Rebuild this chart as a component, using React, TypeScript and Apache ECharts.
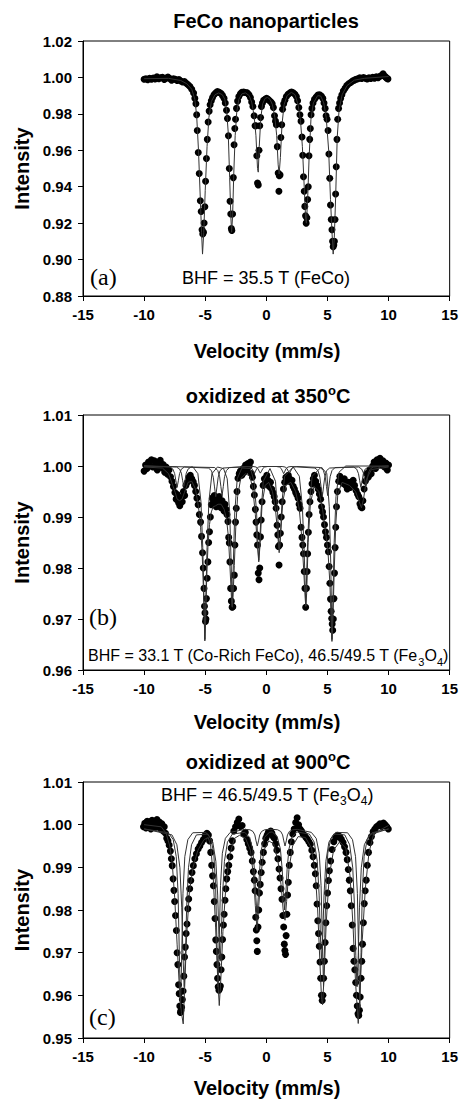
import React, { useEffect, useRef } from "react";
import * as echarts from "echarts";

type P = [number, number];

// ---------- Panel (a): FeCo nanoparticles ----------
const DOTS_A: P[] = [
  [-10.0, 0.999], [-9.85, 0.9993], [-9.7, 0.9988], [-9.55, 0.9995], [-9.4, 0.999], [-9.25, 0.9997], [-9.1, 0.9992],
  [-8.95, 1.0003], [-8.8, 0.9993], [-8.65, 0.9998], [-8.5, 1.0001], [-8.35, 0.9989], [-8.2, 0.9996], [-8.05, 1.0002],
  [-7.9, 0.9994], [-7.75, 0.9985], [-7.6, 0.9993], [-7.45, 0.999], [-7.3, 0.9983], [-7.15, 0.9988], [-7.0, 0.998],
  [-6.85, 0.9975], [-6.7, 0.9978], [-6.55, 0.9968], [-6.4, 0.996], [-6.25, 0.995], [-6.1, 0.9935], [-5.95, 0.9915],
  [-5.85, 0.9885], [-5.76, 0.9855], [-5.7, 0.9795], [-5.65, 0.9709], [-5.57, 0.9588], [-5.49, 0.9473], [-5.4, 0.9323],
  [-5.33, 0.9264], [-5.26, 0.9164], [-5.2, 0.9141], [-5.14, 0.915], [-5.09, 0.9201], [-5.03, 0.929], [-4.97, 0.943],
  [-4.9, 0.9555], [-4.83, 0.966], [-4.76, 0.9755], [-4.68, 0.9815], [-4.6, 0.985], [-4.5, 0.9872], [-4.4, 0.989],
  [-4.28, 0.9905], [-4.15, 0.9915], [-4.0, 0.9922], [-3.85, 0.9918], [-3.7, 0.9912], [-3.58, 0.99], [-3.46, 0.9885],
  [-3.36, 0.986], [-3.26, 0.982], [-3.18, 0.9775], [-3.1, 0.968], [-3.03, 0.95], [-2.97, 0.932], [-2.91, 0.925],
  [-2.86, 0.917], [-2.82, 0.916], [-2.76, 0.925], [-2.7, 0.945], [-2.64, 0.963], [-2.58, 0.972], [-2.52, 0.977],
  [-2.44, 0.983], [-2.35, 0.987], [-2.25, 0.9895], [-2.12, 0.991], [-2.0, 0.9918], [-1.85, 0.992], [-1.7, 0.9917],
  [-1.55, 0.9915], [-1.42, 0.9905], [-1.3, 0.989], [-1.2, 0.9865], [-1.1, 0.984], [-1.0, 0.979], [-0.92, 0.9735],
  [-0.85, 0.9735], [-0.78, 0.957], [-0.72, 0.942], [-0.66, 0.941], [-0.6, 0.96], [-0.54, 0.9735], [-0.47, 0.978],
  [-0.4, 0.984], [-0.32, 0.986], [-0.22, 0.9875], [-0.1, 0.988], [0.02, 0.9885], [0.14, 0.988], [0.26, 0.9872],
  [0.38, 0.9865], [0.48, 0.9855], [0.58, 0.9835], [0.67, 0.979], [0.75, 0.976], [0.82, 0.974], [0.9, 0.962],
  [0.97, 0.9475], [1.03, 0.9375], [1.06, 0.946], [1.12, 0.9465], [1.19, 0.967], [1.26, 0.974], [1.33, 0.9825],
  [1.42, 0.9855], [1.52, 0.9875], [1.64, 0.9895], [1.78, 0.9908], [1.92, 0.9915], [2.06, 0.992], [2.2, 0.9916],
  [2.34, 0.9908], [2.46, 0.9895], [2.56, 0.9872], [2.66, 0.9835], [2.75, 0.9795], [2.84, 0.976], [2.92, 0.9673],
  [2.98, 0.9573], [3.04, 0.9455], [3.1, 0.9375], [3.15, 0.9292], [3.21, 0.924], [3.26, 0.92], [3.32, 0.923],
  [3.38, 0.933], [3.43, 0.94], [3.49, 0.957], [3.55, 0.966], [3.6, 0.972], [3.66, 0.9795], [3.73, 0.983],
  [3.82, 0.986], [3.94, 0.988], [4.08, 0.9893], [4.22, 0.9903], [4.36, 0.9905], [4.5, 0.9898], [4.62, 0.9885],
  [4.72, 0.986], [4.81, 0.983], [4.89, 0.979], [4.97, 0.977], [5.05, 0.9709], [5.12, 0.958], [5.19, 0.9446],
  [5.25, 0.93], [5.31, 0.922], [5.37, 0.9164], [5.42, 0.91], [5.47, 0.907], [5.52, 0.908], [5.57, 0.91],
  [5.62, 0.922], [5.67, 0.936], [5.72, 0.951], [5.78, 0.966], [5.84, 0.977], [5.91, 0.983], [5.99, 0.986],
  [6.08, 0.9885], [6.18, 0.9905], [6.3, 0.9925], [6.44, 0.994], [6.58, 0.9955], [6.74, 0.9965], [6.9, 0.9972],
  [7.05, 0.998], [7.2, 0.9985], [7.35, 0.999], [7.5, 0.9993], [7.65, 0.9998], [7.8, 0.9994], [7.95, 1.0],
  [8.1, 0.9995], [8.25, 0.9992], [8.4, 0.9998], [8.55, 0.9994], [8.7, 1.0001], [8.85, 0.9996], [9.0, 1.0003],
  [9.15, 0.9999], [9.3, 1.0006], [9.45, 1.0012], [9.55, 1.002], [9.65, 1.0008], [9.75, 1.0003], [9.85, 0.9995],
  [9.95, 0.9992],
];
const FIT_A: P[] = [
  [-10, 0.9993], [-8, 0.9995], [-7, 0.9983], [-6.5, 0.9965], [-6.1, 0.9935], [-5.85, 0.988], [-5.7, 0.979],
  [-5.55, 0.96], [-5.4, 0.933], [-5.3, 0.915], [-5.22, 0.903], [-5.12, 0.915], [-5.0, 0.938], [-4.85, 0.962],
  [-4.7, 0.978], [-4.5, 0.9868], [-4.2, 0.9905], [-3.9, 0.9915], [-3.6, 0.9905], [-3.4, 0.988], [-3.25, 0.982],
  [-3.12, 0.97], [-3.0, 0.945], [-2.9, 0.923], [-2.84, 0.915], [-2.76, 0.924], [-2.66, 0.948], [-2.55, 0.968],
  [-2.42, 0.981], [-2.25, 0.988], [-2.0, 0.991], [-1.7, 0.9915], [-1.4, 0.99], [-1.2, 0.9865], [-1.0, 0.979],
  [-0.85, 0.968], [-0.72, 0.95], [-0.66, 0.948], [-0.58, 0.962], [-0.45, 0.978], [-0.3, 0.9855], [-0.1, 0.9885],
  [0.1, 0.989], [0.3, 0.988], [0.5, 0.985], [0.7, 0.978], [0.85, 0.968], [0.97, 0.952], [1.05, 0.947],
  [1.15, 0.956], [1.28, 0.974], [1.45, 0.985], [1.7, 0.99], [2.05, 0.9918], [2.35, 0.9905], [2.6, 0.985],
  [2.8, 0.976], [2.95, 0.962], [3.1, 0.94], [3.22, 0.922], [3.28, 0.92], [3.38, 0.933], [3.5, 0.956],
  [3.65, 0.977], [3.85, 0.986], [4.2, 0.99], [4.45, 0.9898], [4.7, 0.986], [4.9, 0.978], [5.1, 0.96],
  [5.25, 0.933], [5.38, 0.914], [5.47, 0.903], [5.56, 0.912], [5.68, 0.936], [5.8, 0.967], [5.95, 0.982],
  [6.2, 0.9905], [6.6, 0.9955], [7.2, 0.9985], [8, 0.9995], [10, 1.0005],
];

// ---------- Panel (b): oxidized at 350 C ----------
const DOTS_B: P[] = [
  [-10.0, 0.999], [-9.88, 1.0002], [-9.76, 0.9995], [-9.64, 1.0008], [-9.52, 1.0], [-9.4, 1.0012], [-9.28, 0.9998],
  [-9.16, 1.001], [-9.04, 1.0004], [-8.92, 0.9992], [-8.8, 1.0006], [-8.68, 1.0011], [-8.56, 0.9997], [-8.44, 1.0003],
  [-8.32, 0.9988], [-8.2, 0.9998], [-8.08, 0.9984], [-7.96, 0.9992], [-7.84, 0.9979], [-7.72, 0.997], [-7.6, 0.996],
  [-7.48, 0.9948], [-7.38, 0.9935], [-7.28, 0.9944], [-7.18, 0.9928], [-7.08, 0.9922], [-6.98, 0.9938], [-6.88, 0.993],
  [-6.78, 0.995], [-6.68, 0.9942], [-6.58, 0.9962], [-6.46, 0.9968], [-6.34, 0.9978], [-6.22, 0.9982], [-6.1, 0.9975],
  [-5.98, 0.9969], [-5.88, 0.9962], [-5.78, 0.995], [-5.68, 0.9937], [-5.58, 0.9924], [-5.48, 0.9905], [-5.38, 0.989],
  [-5.3, 0.9862], [-5.22, 0.983], [-5.16, 0.98], [-5.1, 0.976], [-5.06, 0.9725], [-5.02, 0.9712], [-4.98, 0.9695],
  [-4.94, 0.97], [-4.9, 0.974], [-4.84, 0.978], [-4.78, 0.9812], [-4.72, 0.985], [-4.65, 0.9871], [-4.58, 0.99],
  [-4.5, 0.9924], [-4.42, 0.9937], [-4.34, 0.9928], [-4.26, 0.9942], [-4.18, 0.993], [-4.1, 0.992], [-4.02, 0.9935],
  [-3.94, 0.9926], [-3.86, 0.994], [-3.78, 0.993], [-3.7, 0.9918], [-3.62, 0.9932], [-3.54, 0.9922], [-3.46, 0.9912],
  [-3.38, 0.9925], [-3.3, 0.9915], [-3.22, 0.9905], [-3.14, 0.9891], [-3.08, 0.986], [-3.03, 0.9849], [-2.98, 0.9812],
  [-2.92, 0.976], [-2.86, 0.9735], [-2.8, 0.9723], [-2.74, 0.9724], [-2.68, 0.976], [-2.62, 0.9786], [-2.57, 0.9845],
  [-2.52, 0.989], [-2.46, 0.9917], [-2.4, 0.995], [-2.32, 0.9976], [-2.22, 0.9985], [-2.12, 0.999], [-2.0, 0.9982],
  [-1.9, 0.9995], [-1.8, 0.9988], [-1.7, 1.0002], [-1.6, 0.9992], [-1.5, 1.0005], [-1.4, 1.0], [-1.3, 1.0008],
  [-1.22, 0.9985], [-1.14, 0.9978], [-1.06, 0.996], [-0.98, 0.9943], [-0.9, 0.9915], [-0.84, 0.989], [-0.78, 0.9865],
  [-0.72, 0.9845], [-0.66, 0.979], [-0.6, 0.9777], [-0.54, 0.98], [-0.48, 0.9861], [-0.42, 0.9894], [-0.35, 0.993],
  [-0.26, 0.9962], [-0.16, 0.9975], [-0.06, 0.9968], [0.04, 0.9982], [0.14, 0.9972], [0.24, 0.996], [0.34, 0.9968],
  [0.44, 0.9955], [0.54, 0.9948], [0.64, 0.994], [0.72, 0.993], [0.8, 0.9917], [0.88, 0.9884], [0.94, 0.9865],
  [0.99, 0.9842], [1.04, 0.9806], [1.09, 0.9845], [1.15, 0.9868], [1.22, 0.99], [1.3, 0.993], [1.4, 0.9955],
  [1.5, 0.9968], [1.6, 0.9978], [1.7, 0.9972], [1.8, 0.9982], [1.9, 0.9975], [2.0, 0.9968], [2.1, 0.9972],
  [2.2, 0.996], [2.3, 0.9955], [2.4, 0.9948], [2.5, 0.9943], [2.6, 0.9937], [2.68, 0.9925], [2.76, 0.9917],
  [2.84, 0.988], [2.92, 0.986], [2.98, 0.9845], [3.04, 0.9828], [3.1, 0.9793], [3.16, 0.976], [3.22, 0.9723],
  [3.28, 0.976], [3.34, 0.9793], [3.38, 0.9828], [3.44, 0.987], [3.5, 0.9905], [3.57, 0.993], [3.65, 0.995],
  [3.74, 0.9965], [3.84, 0.9975], [3.94, 0.9982], [4.04, 0.997], [4.14, 0.9962], [4.24, 0.9955], [4.34, 0.9945],
  [4.44, 0.9935], [4.52, 0.992], [4.6, 0.991], [4.68, 0.99], [4.76, 0.9885], [4.84, 0.9871], [4.92, 0.986],
  [5.0, 0.9845], [5.08, 0.9832], [5.14, 0.9803], [5.2, 0.977], [5.25, 0.9739], [5.3, 0.9715], [5.35, 0.9701],
  [5.39, 0.969], [5.43, 0.9678], [5.48, 0.97], [5.53, 0.974], [5.58, 0.979], [5.63, 0.984], [5.68, 0.988],
  [5.74, 0.992], [5.82, 0.995], [5.92, 0.997], [6.02, 0.998], [6.14, 0.9972], [6.26, 0.9966], [6.38, 0.9975],
  [6.5, 0.9962], [6.62, 0.9955], [6.74, 0.9968], [6.86, 0.9958], [6.98, 0.9965], [7.1, 0.9972], [7.22, 0.9962],
  [7.34, 0.9952], [7.46, 0.9945], [7.56, 0.994], [7.66, 0.9926], [7.74, 0.992], [7.82, 0.9918], [7.9, 0.9932],
  [8.0, 0.9955], [8.1, 0.997], [8.22, 0.9985], [8.34, 0.9978], [8.46, 0.9992], [8.58, 0.9985], [8.7, 1.0],
  [8.82, 1.0008], [8.94, 0.9995], [9.06, 1.0012], [9.18, 1.0004], [9.3, 1.0015], [9.42, 1.0002], [9.54, 1.001],
  [9.66, 0.9998], [9.78, 1.0006], [9.9, 0.9992], [10.0, 1.0002],
];
const FIT_B: P[] = [
  [-10, 0.9998], [-8.5, 0.9996], [-8.0, 0.9985], [-7.7, 0.9965], [-7.45, 0.9948], [-7.3, 0.9935], [-7.1, 0.9932],
  [-6.9, 0.9935], [-6.7, 0.9948], [-6.4, 0.9968], [-6.1, 0.997], [-5.8, 0.9955], [-5.55, 0.992], [-5.38, 0.988],
  [-5.25, 0.983], [-5.15, 0.976], [-5.08, 0.97], [-5.03, 0.9657], [-4.96, 0.97], [-4.88, 0.978], [-4.78, 0.984],
  [-4.65, 0.9885], [-4.5, 0.991], [-4.35, 0.992], [-4.15, 0.9922], [-3.95, 0.9925], [-3.7, 0.9925], [-3.45, 0.9915],
  [-3.25, 0.9895], [-3.1, 0.986], [-2.97, 0.98], [-2.86, 0.9745], [-2.79, 0.9723], [-2.72, 0.9745], [-2.62, 0.9805],
  [-2.5, 0.988], [-2.35, 0.994], [-2.1, 0.9975], [-1.7, 0.9985], [-1.35, 0.998], [-1.1, 0.9955], [-0.9, 0.9905],
  [-0.75, 0.985], [-0.62, 0.9812], [-0.5, 0.985], [-0.35, 0.9925], [-0.1, 0.9962], [0.2, 0.9968], [0.5, 0.995],
  [0.75, 0.9915], [0.92, 0.987], [1.05, 0.983], [1.18, 0.987], [1.35, 0.993], [1.6, 0.9962], [2.0, 0.9968],
  [2.4, 0.995], [2.7, 0.9915], [2.9, 0.986], [3.05, 0.98], [3.18, 0.974], [3.23, 0.9725], [3.3, 0.975],
  [3.42, 0.985], [3.6, 0.9925], [3.9, 0.996], [4.3, 0.995], [4.6, 0.9915], [4.85, 0.987], [5.05, 0.983],
  [5.2, 0.977], [5.3, 0.97], [5.37, 0.9656], [5.45, 0.97], [5.55, 0.979], [5.68, 0.9885], [5.85, 0.9945],
  [6.2, 0.9968], [6.8, 0.9962], [7.3, 0.995], [7.6, 0.993], [7.78, 0.9918], [7.95, 0.9935], [8.2, 0.9975],
  [8.6, 0.9993], [10, 0.9998],
];
const FECO_B: P[] = [
  [-10, 1.0], [-6.0, 0.9998], [-5.6, 0.9985], [-5.35, 0.993], [-5.2, 0.984], [-5.1, 0.974], [-5.03, 0.966],
  [-4.95, 0.974], [-4.85, 0.984], [-4.7, 0.993], [-4.45, 0.9985], [-4.0, 0.9998], [-3.5, 0.9995], [-3.2, 0.9975],
  [-3.0, 0.991], [-2.88, 0.981], [-2.79, 0.9725], [-2.7, 0.981], [-2.58, 0.991], [-2.38, 0.9975], [-2.0, 0.9996],
  [-1.3, 0.9995], [-1.0, 0.997], [-0.8, 0.991], [-0.68, 0.984], [-0.62, 0.9815], [-0.55, 0.984], [-0.43, 0.991],
  [-0.25, 0.997], [0.3, 0.9995], [0.75, 0.997], [0.92, 0.991], [1.03, 0.9845], [1.08, 0.9835], [1.15, 0.986],
  [1.28, 0.993], [1.5, 0.998], [2.2, 0.9998], [2.7, 0.998], [2.95, 0.992], [3.1, 0.983], [3.23, 0.9725],
  [3.35, 0.983], [3.5, 0.992], [3.75, 0.998], [4.5, 0.9998], [4.95, 0.9985], [5.15, 0.992], [5.27, 0.981],
  [5.37, 0.966], [5.45, 0.974], [5.55, 0.985], [5.7, 0.994], [5.95, 0.9988], [6.5, 1.0], [10, 1.0],
];
const FE3O4_A_B: P[] = [
  [-10, 1.0],
  [-7.9, 0.9998], [-7.65, 0.9994], [-7.5, 0.9985], [-7.4, 0.9971], [-7.3, 0.9958], [-7.2, 0.9971], [-7.1, 0.9985], [-6.95, 0.9994], [-6.7, 0.9998],
  [-4.74, 0.9996], [-4.49, 0.9991], [-4.34, 0.9978], [-4.24, 0.9959], [-4.14, 0.994], [-4.04, 0.9959], [-3.94, 0.9978], [-3.79, 0.9991], [-3.54, 0.9996],
  [-1.58, 0.9999], [-1.33, 0.9998], [-1.18, 0.9995], [-1.08, 0.999], [-0.98, 0.9985], [-0.88, 0.999], [-0.78, 0.9995], [-0.63, 0.9998], [-0.38, 0.9999],
  [0.82, 0.9999], [1.07, 0.9998], [1.22, 0.9995], [1.32, 0.999], [1.42, 0.9985], [1.52, 0.999], [1.62, 0.9995], [1.77, 0.9998], [2.02, 0.9999],
  [3.98, 0.9996], [4.23, 0.9991], [4.38, 0.9978], [4.48, 0.9959], [4.58, 0.994], [4.68, 0.9959], [4.78, 0.9978], [4.93, 0.9991], [5.18, 0.9996],
  [7.14, 0.9998], [7.39, 0.9994], [7.54, 0.9985], [7.64, 0.9971], [7.74, 0.9958], [7.84, 0.9971], [7.94, 0.9985], [8.09, 0.9994], [8.34, 0.9998],
  [10, 1.0],
];
const FE3O4_B_B: P[] = [
  [-10, 1.0],
  [-7.35, 0.9998], [-7.1, 0.9994], [-6.95, 0.9986], [-6.85, 0.9972], [-6.75, 0.996], [-6.65, 0.9972], [-6.55, 0.9986], [-6.4, 0.9994], [-6.15, 0.9998],
  [-4.22, 0.9997], [-3.97, 0.9991], [-3.82, 0.9979], [-3.72, 0.996], [-3.62, 0.9942], [-3.52, 0.996], [-3.42, 0.9979], [-3.27, 0.9991], [-3.02, 0.9997],
  [-1.09, 0.9999], [-0.84, 0.9998], [-0.69, 0.9995], [-0.59, 0.999], [-0.49, 0.9986], [-0.39, 0.999], [-0.29, 0.9995], [-0.14, 0.9998], [0.11, 0.9999],
  [1.29, 0.9999], [1.54, 0.9998], [1.69, 0.9995], [1.79, 0.999], [1.89, 0.9986], [1.99, 0.999], [2.09, 0.9995], [2.24, 0.9998], [2.49, 0.9999],
  [4.42, 0.9997], [4.67, 0.9991], [4.82, 0.9979], [4.92, 0.996], [5.02, 0.9942], [5.12, 0.996], [5.22, 0.9979], [5.37, 0.9991], [5.62, 0.9997],
  [7.55, 0.9998], [7.8, 0.9994], [7.95, 0.9986], [8.05, 0.9972], [8.15, 0.996], [8.25, 0.9972], [8.35, 0.9986], [8.5, 0.9994], [8.75, 0.9998],
  [10, 1.0],
];

// ---------- Panel (c): oxidized at 900 C ----------
const DOTS_C: P[] = [
  [-10.05, 0.9995], [-9.95, 1.0003], [-9.85, 0.9992], [-9.75, 1.0008], [-9.65, 0.9998], [-9.55, 1.0006], [-9.45, 0.999],
  [-9.35, 1.001], [-9.25, 0.9998], [-9.15, 1.0004], [-9.05, 0.9994], [-8.95, 1.0012], [-8.85, 0.9996], [-8.75, 1.0006],
  [-8.65, 0.999], [-8.55, 1.0002], [-8.45, 0.9985], [-8.35, 0.9995], [-8.25, 0.998], [-8.15, 0.9968], [-8.05, 0.9962],
  [-7.95, 0.9952], [-7.85, 0.9938], [-7.77, 0.992], [-7.7, 0.9904], [-7.63, 0.9873], [-7.56, 0.9846], [-7.5, 0.982],
  [-7.43, 0.9787], [-7.36, 0.9752], [-7.3, 0.97], [-7.24, 0.9672], [-7.18, 0.9625], [-7.13, 0.9604], [-7.08, 0.9575],
  [-7.03, 0.956], [-6.98, 0.9565], [-6.93, 0.9572], [-6.87, 0.959], [-6.81, 0.961], [-6.75, 0.9645], [-6.69, 0.969],
  [-6.63, 0.9713], [-6.56, 0.9745], [-6.49, 0.9767], [-6.42, 0.9803], [-6.35, 0.9826], [-6.27, 0.985], [-6.18, 0.9869],
  [-6.08, 0.9888], [-5.97, 0.9904], [-5.85, 0.992], [-5.72, 0.9932], [-5.58, 0.9943], [-5.44, 0.995], [-5.3, 0.9958],
  [-5.15, 0.9965], [-5.0, 0.9975], [-4.86, 0.998], [-4.74, 0.9976], [-4.64, 0.9962], [-4.55, 0.9935], [-4.47, 0.9905],
  [-4.4, 0.988], [-4.33, 0.9857], [-4.26, 0.982], [-4.2, 0.978], [-4.14, 0.973], [-4.09, 0.9703], [-4.04, 0.9672],
  [-3.99, 0.964], [-3.94, 0.962], [-3.88, 0.9612], [-3.82, 0.9616], [-3.76, 0.9622], [-3.7, 0.966], [-3.64, 0.969],
  [-3.58, 0.9731], [-3.51, 0.9765], [-3.45, 0.979], [-3.38, 0.9823], [-3.31, 0.985], [-3.24, 0.9873], [-3.16, 0.989],
  [-3.07, 0.9905], [-2.98, 0.9925], [-2.88, 0.9945], [-2.78, 0.9962], [-2.66, 0.9985], [-2.52, 0.9995], [-2.38, 1.0005],
  [-2.25, 1.0013], [-2.12, 0.9996], [-1.98, 0.9998], [-1.85, 0.9978], [-1.72, 0.9982], [-1.6, 0.9965], [-1.48, 0.9955],
  [-1.36, 0.9945], [-1.25, 0.9935], [-1.15, 0.9915], [-1.06, 0.989], [-0.98, 0.987], [-0.92, 0.9845], [-0.87, 0.9783],
  [-0.82, 0.9753], [-0.78, 0.9728], [-0.74, 0.9703], [-0.68, 0.976], [-0.62, 0.98], [-0.56, 0.984], [-0.5, 0.986],
  [-0.42, 0.9888], [-0.34, 0.9912], [-0.24, 0.9935], [-0.14, 0.9955], [-0.04, 0.9968], [0.06, 0.9975], [0.16, 0.9982],
  [0.26, 0.9978], [0.36, 0.9985], [0.46, 0.998], [0.56, 0.9972], [0.66, 0.9968], [0.76, 0.9955], [0.86, 0.994],
  [0.95, 0.992], [1.04, 0.9896], [1.12, 0.9875], [1.2, 0.985], [1.28, 0.9825], [1.35, 0.9787], [1.42, 0.976],
  [1.47, 0.972], [1.52, 0.9705], [1.57, 0.9696], [1.62, 0.974], [1.68, 0.979], [1.74, 0.9835], [1.8, 0.9865],
  [1.88, 0.9905], [1.96, 0.9935], [2.05, 0.996], [2.16, 0.9978], [2.28, 0.999], [2.4, 1.0005], [2.52, 1.0016],
  [2.64, 1.0], [2.76, 0.999], [2.88, 0.9985], [3.0, 0.9978], [3.12, 0.9975], [3.24, 0.997], [3.36, 0.9966],
  [3.48, 0.996], [3.6, 0.9954], [3.72, 0.994], [3.82, 0.9925], [3.92, 0.9905], [4.01, 0.9885], [4.08, 0.9857],
  [4.15, 0.9814], [4.21, 0.9775], [4.27, 0.9745], [4.33, 0.9715], [4.39, 0.9678], [4.45, 0.964], [4.51, 0.96],
  [4.57, 0.9588], [4.63, 0.96], [4.69, 0.964], [4.75, 0.968], [4.81, 0.9724], [4.87, 0.977], [4.94, 0.981],
  [5.01, 0.984], [5.08, 0.9869], [5.16, 0.9892], [5.26, 0.9915], [5.38, 0.9942], [5.52, 0.996], [5.68, 0.997],
  [5.84, 0.9975], [6.0, 0.9972], [6.14, 0.9966], [6.28, 0.9958], [6.4, 0.9948], [6.52, 0.9935], [6.62, 0.9918],
  [6.71, 0.9895], [6.79, 0.987], [6.87, 0.9845], [6.95, 0.981], [7.03, 0.9765], [7.1, 0.971], [7.17, 0.968],
  [7.24, 0.966], [7.31, 0.963], [7.38, 0.96], [7.44, 0.9575], [7.5, 0.9557], [7.56, 0.9553], [7.62, 0.9565],
  [7.68, 0.9596], [7.75, 0.964], [7.81, 0.968], [7.87, 0.972], [7.94, 0.977], [8.01, 0.9815], [8.09, 0.9845],
  [8.17, 0.987], [8.26, 0.9905], [8.36, 0.9935], [8.48, 0.9958], [8.6, 0.9972], [8.74, 0.9984], [8.88, 0.999],
  [9.02, 0.9995], [9.16, 0.9998], [9.3, 1.0002], [9.44, 0.9996], [9.58, 1.0004], [9.72, 1.0], [9.86, 0.9995],
  [9.98, 0.999],
];
const FIT_C: P[] = [
  [-10, 1.0], [-8.6, 0.9995], [-8.2, 0.998], [-7.9, 0.995], [-7.7, 0.991], [-7.5, 0.983], [-7.3, 0.972],
  [-7.1, 0.961], [-6.95, 0.956], [-6.8, 0.9533], [-6.68, 0.962], [-6.52, 0.974], [-6.3, 0.984], [-6.0, 0.99],
  [-5.6, 0.994], [-5.1, 0.9965], [-4.75, 0.997], [-4.55, 0.995], [-4.35, 0.988], [-4.15, 0.976], [-3.98, 0.964],
  [-3.85, 0.9576], [-3.72, 0.964], [-3.55, 0.975], [-3.3, 0.986], [-3.0, 0.993], [-2.6, 0.9968], [-2.2, 0.9975],
  [-1.7, 0.9968], [-1.3, 0.994], [-1.05, 0.988], [-0.9, 0.981], [-0.76, 0.9752], [-0.62, 0.981], [-0.45, 0.988],
  [-0.2, 0.994], [0.2, 0.9962], [0.6, 0.9955], [0.95, 0.9915], [1.2, 0.986], [1.38, 0.98], [1.53, 0.9776],
  [1.66, 0.982], [1.85, 0.9895], [2.15, 0.995], [2.6, 0.9972], [3.2, 0.997], [3.7, 0.9945], [4.0, 0.989],
  [4.2, 0.98], [4.38, 0.968], [4.52, 0.959], [4.6, 0.9578], [4.72, 0.964], [4.9, 0.977], [5.15, 0.988],
  [5.5, 0.994], [6.0, 0.996], [6.5, 0.9945], [6.85, 0.988], [7.1, 0.976], [7.3, 0.963], [7.52, 0.9534],
  [7.65, 0.96], [7.85, 0.973], [8.1, 0.985], [8.4, 0.9935], [8.8, 0.998], [10, 0.9998],
];
const COMP1_C: P[] = [
  [-10, 0.999],
  [-8.02, 0.9981], [-7.62, 0.9965], [-7.37, 0.9925], [-7.22, 0.9839], [-7.12, 0.97], [-7.02, 0.957], [-6.92, 0.97], [-6.82, 0.9839], [-6.67, 0.9925], [-6.42, 0.9965], [-6.02, 0.9981],
  [-4.95, 0.9982], [-4.55, 0.9968], [-4.3, 0.9933], [-4.15, 0.9857], [-4.05, 0.9735], [-3.95, 0.962], [-3.85, 0.9735], [-3.75, 0.9857], [-3.6, 0.9933], [-3.35, 0.9968], [-2.95, 0.9982],
  [-1.74, 0.9989], [-1.34, 0.9988], [-1.09, 0.9984], [-0.94, 0.9976], [-0.84, 0.9962], [-0.74, 0.995], [-0.64, 0.9962], [-0.54, 0.9976], [-0.39, 0.9984], [-0.14, 0.9988], [0.26, 0.9989],
  [0.53, 0.9989], [0.93, 0.9988], [1.18, 0.9984], [1.33, 0.9976], [1.43, 0.9962], [1.53, 0.995], [1.63, 0.9962], [1.73, 0.9976], [1.88, 0.9984], [2.13, 0.9988], [2.53, 0.9989],
  [3.68, 0.9982], [4.08, 0.9968], [4.33, 0.9933], [4.48, 0.9857], [4.58, 0.9735], [4.68, 0.962], [4.78, 0.9735], [4.88, 0.9857], [5.03, 0.9933], [5.28, 0.9968], [5.68, 0.9982],
  [6.65, 0.9981], [7.05, 0.9965], [7.3, 0.9925], [7.45, 0.9839], [7.55, 0.97], [7.65, 0.957], [7.75, 0.97], [7.85, 0.9839], [8.0, 0.9925], [8.25, 0.9965], [8.65, 0.9981],
  [10, 0.999],
];
const COMP2_C: P[] = [
  [-10, 0.999],
  [-7.72, 0.9976], [-7.32, 0.9953], [-7.07, 0.9899], [-6.92, 0.9805], [-6.82, 0.9694], [-6.72, 0.962], [-6.62, 0.9694], [-6.52, 0.9805], [-6.37, 0.9899], [-6.12, 0.9953], [-5.72, 0.9976],
  [-4.78, 0.9978], [-4.38, 0.9959], [-4.13, 0.9914], [-3.98, 0.9835], [-3.88, 0.9742], [-3.78, 0.968], [-3.68, 0.9742], [-3.58, 0.9835], [-3.43, 0.9914], [-3.18, 0.9959], [-2.78, 0.9978],
  [-1.76, 0.9982], [-1.36, 0.997], [-1.11, 0.9941], [-0.96, 0.989], [-0.86, 0.983], [-0.76, 0.979], [-0.66, 0.983], [-0.56, 0.989], [-0.41, 0.9941], [-0.16, 0.997], [0.24, 0.9982],
  [0.5, 0.9983], [0.9, 0.9971], [1.15, 0.9943], [1.3, 0.9895], [1.4, 0.9838], [1.5, 0.98], [1.6, 0.9838], [1.7, 0.9895], [1.85, 0.9943], [2.1, 0.9971], [2.5, 0.9983],
  [3.52, 0.9978], [3.92, 0.9959], [4.17, 0.9914], [4.32, 0.9835], [4.42, 0.9742], [4.52, 0.968], [4.62, 0.9742], [4.72, 0.9835], [4.87, 0.9914], [5.12, 0.9959], [5.52, 0.9978],
  [6.42, 0.9976], [6.82, 0.9953], [7.07, 0.9899], [7.22, 0.9805], [7.32, 0.9694], [7.42, 0.962], [7.52, 0.9694], [7.62, 0.9805], [7.77, 0.9899], [8.02, 0.9953], [8.42, 0.9976],
  [10, 0.999],
];

// axis ranges
const X_RANGE = { min: -15, max: 15, interval: 5 };
const Y_RANGE_A = { min: 0.88, max: 1.02, interval: 0.02 };
const Y_RANGE_B = { min: 0.96, max: 1.01, interval: 0.01 };
const Y_RANGE_C = { min: 0.95, max: 1.01, interval: 0.01 };

const SANS = "'Liberation Sans', Arial, sans-serif";
const SERIF = "'Liberation Serif', 'Times New Roman', serif";

function xAxisFor(gi: number) {
  return {
    type: "value",
    gridIndex: gi,
    ...X_RANGE,
    axisLine: { show: true, onZero: false, lineStyle: { color: "#000", width: 1 } },
    axisTick: { show: true, inside: false, length: 5, lineStyle: { color: "#000" } },
    axisLabel: { fontSize: 15, fontWeight: "bold", fontFamily: SANS, color: "#000", margin: 11 },
    splitLine: { show: false },
  };
}
function yAxisFor(gi: number, r: { min: number; max: number; interval: number }) {
  return {
    type: "value",
    gridIndex: gi,
    ...r,
    axisLine: { show: true, onZero: false, lineStyle: { color: "#000", width: 1 } },
    axisTick: { show: true, inside: false, length: 5, lineStyle: { color: "#000" } },
    axisLabel: {
      fontSize: 15,
      fontWeight: "bold",
      fontFamily: SANS,
      color: "#000",
      margin: 11,
      formatter: (v: number) => v.toFixed(2),
    },
    splitLine: { show: false },
  };
}
function dots(data: P[], i: number) {
  return {
    type: "scatter",
    xAxisIndex: i,
    yAxisIndex: i,
    data,
    symbol: "circle",
    symbolSize: 7,
    itemStyle: { color: "#000", opacity: 1 },
    z: 2,
    silent: true,
  };
}
function curve(data: P[], i: number) {
  return {
    type: "line",
    xAxisIndex: i,
    yAxisIndex: i,
    data,
    symbol: "none",
    showSymbol: false,
    lineStyle: { color: "#333", width: 1 },
    z: 3,
    silent: true,
  };
}
function txt(x: number, y: number, text: string, o: any = {}) {
  const { rotation, ...style } = o;
  return {
    type: "text",
    x,
    y,
    rotation: rotation || 0,
    style: {
      text,
      fill: "#000",
      fontFamily: SANS,
      fontSize: 20,
      fontWeight: "bold",
      align: "center",
      verticalAlign: "middle",
      ...style,
    },
    z: 10,
  };
}

const richNormal = (size: number) => ({
  n: { fontSize: size, fontFamily: SANS, fill: "#000", lineHeight: 24 },
  b: { fontSize: Math.round(size * 0.68), fontFamily: SANS, fill: "#000", verticalAlign: "bottom" },
});
const richTitle = {
  t: { fontSize: 20, fontWeight: "bold", fontFamily: SANS, fill: "#000", lineHeight: 24 },
  s: { fontSize: 13, fontWeight: "bold", fontFamily: SANS, fill: "#000", verticalAlign: "top" },
};

export default function App() {
  const ref = useRef<HTMLDivElement>(null);
  useEffect(() => {
    const chart = echarts.init(ref.current!, null, { renderer: "svg" });
    const gridBox = { show: true, borderColor: "#000", borderWidth: 1, backgroundColor: "transparent" };
    chart.setOption({
      animation: false,
      backgroundColor: "#fff",
      grid: [
        { left: 83, top: 41, width: 368, height: 255, ...gridBox },
        { left: 83, top: 415, width: 368, height: 255, ...gridBox },
        { left: 83, top: 782, width: 368, height: 256, ...gridBox },
      ],
      xAxis: [xAxisFor(0), xAxisFor(1), xAxisFor(2)],
      yAxis: [yAxisFor(0, Y_RANGE_A), yAxisFor(1, Y_RANGE_B), yAxisFor(2, Y_RANGE_C)],
      series: [
        dots(DOTS_A, 0),
        curve(FIT_A, 0),
        dots(DOTS_B, 1),
        curve(FE3O4_A_B, 1),
        curve(FE3O4_B_B, 1),
        curve(FECO_B, 1),
        curve(FIT_B, 1),
        dots(DOTS_C, 2),
        curve(COMP1_C, 2),
        curve(COMP2_C, 2),
        curve(FIT_C, 2),
      ],
      graphic: {
        elements: [
          txt(266, 21, "FeCo nanoparticles"),
          txt(267, 351, "Velocity (mm/s)"),
          txt(22, 168.5, "Intensity", { rotation: Math.PI / 2 }),
          txt(90, 277, "(a)", { fontFamily: SERIF, fontWeight: "normal", fontSize: 24, align: "left" }),
          txt(266, 278, "BHF = 35.5 T (FeCo)", { fontWeight: "normal", fontSize: 18 }),

          txt(268, 396, "{t|oxidized at 350}{s|o}{t|C}", { rich: richTitle }),
          txt(267, 722, "Velocity (mm/s)"),
          txt(22, 542.5, "Intensity", { rotation: Math.PI / 2 }),
          txt(89, 617, "(b)", { fontFamily: SERIF, fontWeight: "normal", fontSize: 24, align: "left" }),
          txt(88, 655, "{n|BHF = 33.1 T (Co-Rich FeCo), 46.5/49.5 T (Fe}{b|3}{n|O}{b|4}{n|)}", {
            fontWeight: "normal",
            fontSize: 16,
            align: "left",
            rich: richNormal(16),
          }),

          txt(268, 762, "{t|oxidized at 900}{s|o}{t|C}", { rich: richTitle }),
          txt(267, 1088, "Velocity (mm/s)"),
          txt(22, 910, "Intensity", { rotation: Math.PI / 2 }),
          txt(89, 1017, "(c)", { fontFamily: SERIF, fontWeight: "normal", fontSize: 24, align: "left" }),
          txt(267, 795, "{n|BHF = 46.5/49.5 T (Fe}{b|3}{n|O}{b|4}{n|)}", {
            fontWeight: "normal",
            fontSize: 18,
            rich: richNormal(18),
          }),
        ],
      },
    });
    return () => chart.dispose();
  }, []);
  return (
    <div
      ref={ref}
      style={{ position: "absolute", left: 0, top: 0, width: 461, height: 1099, background: "#fff" }}
    />
  );
}
